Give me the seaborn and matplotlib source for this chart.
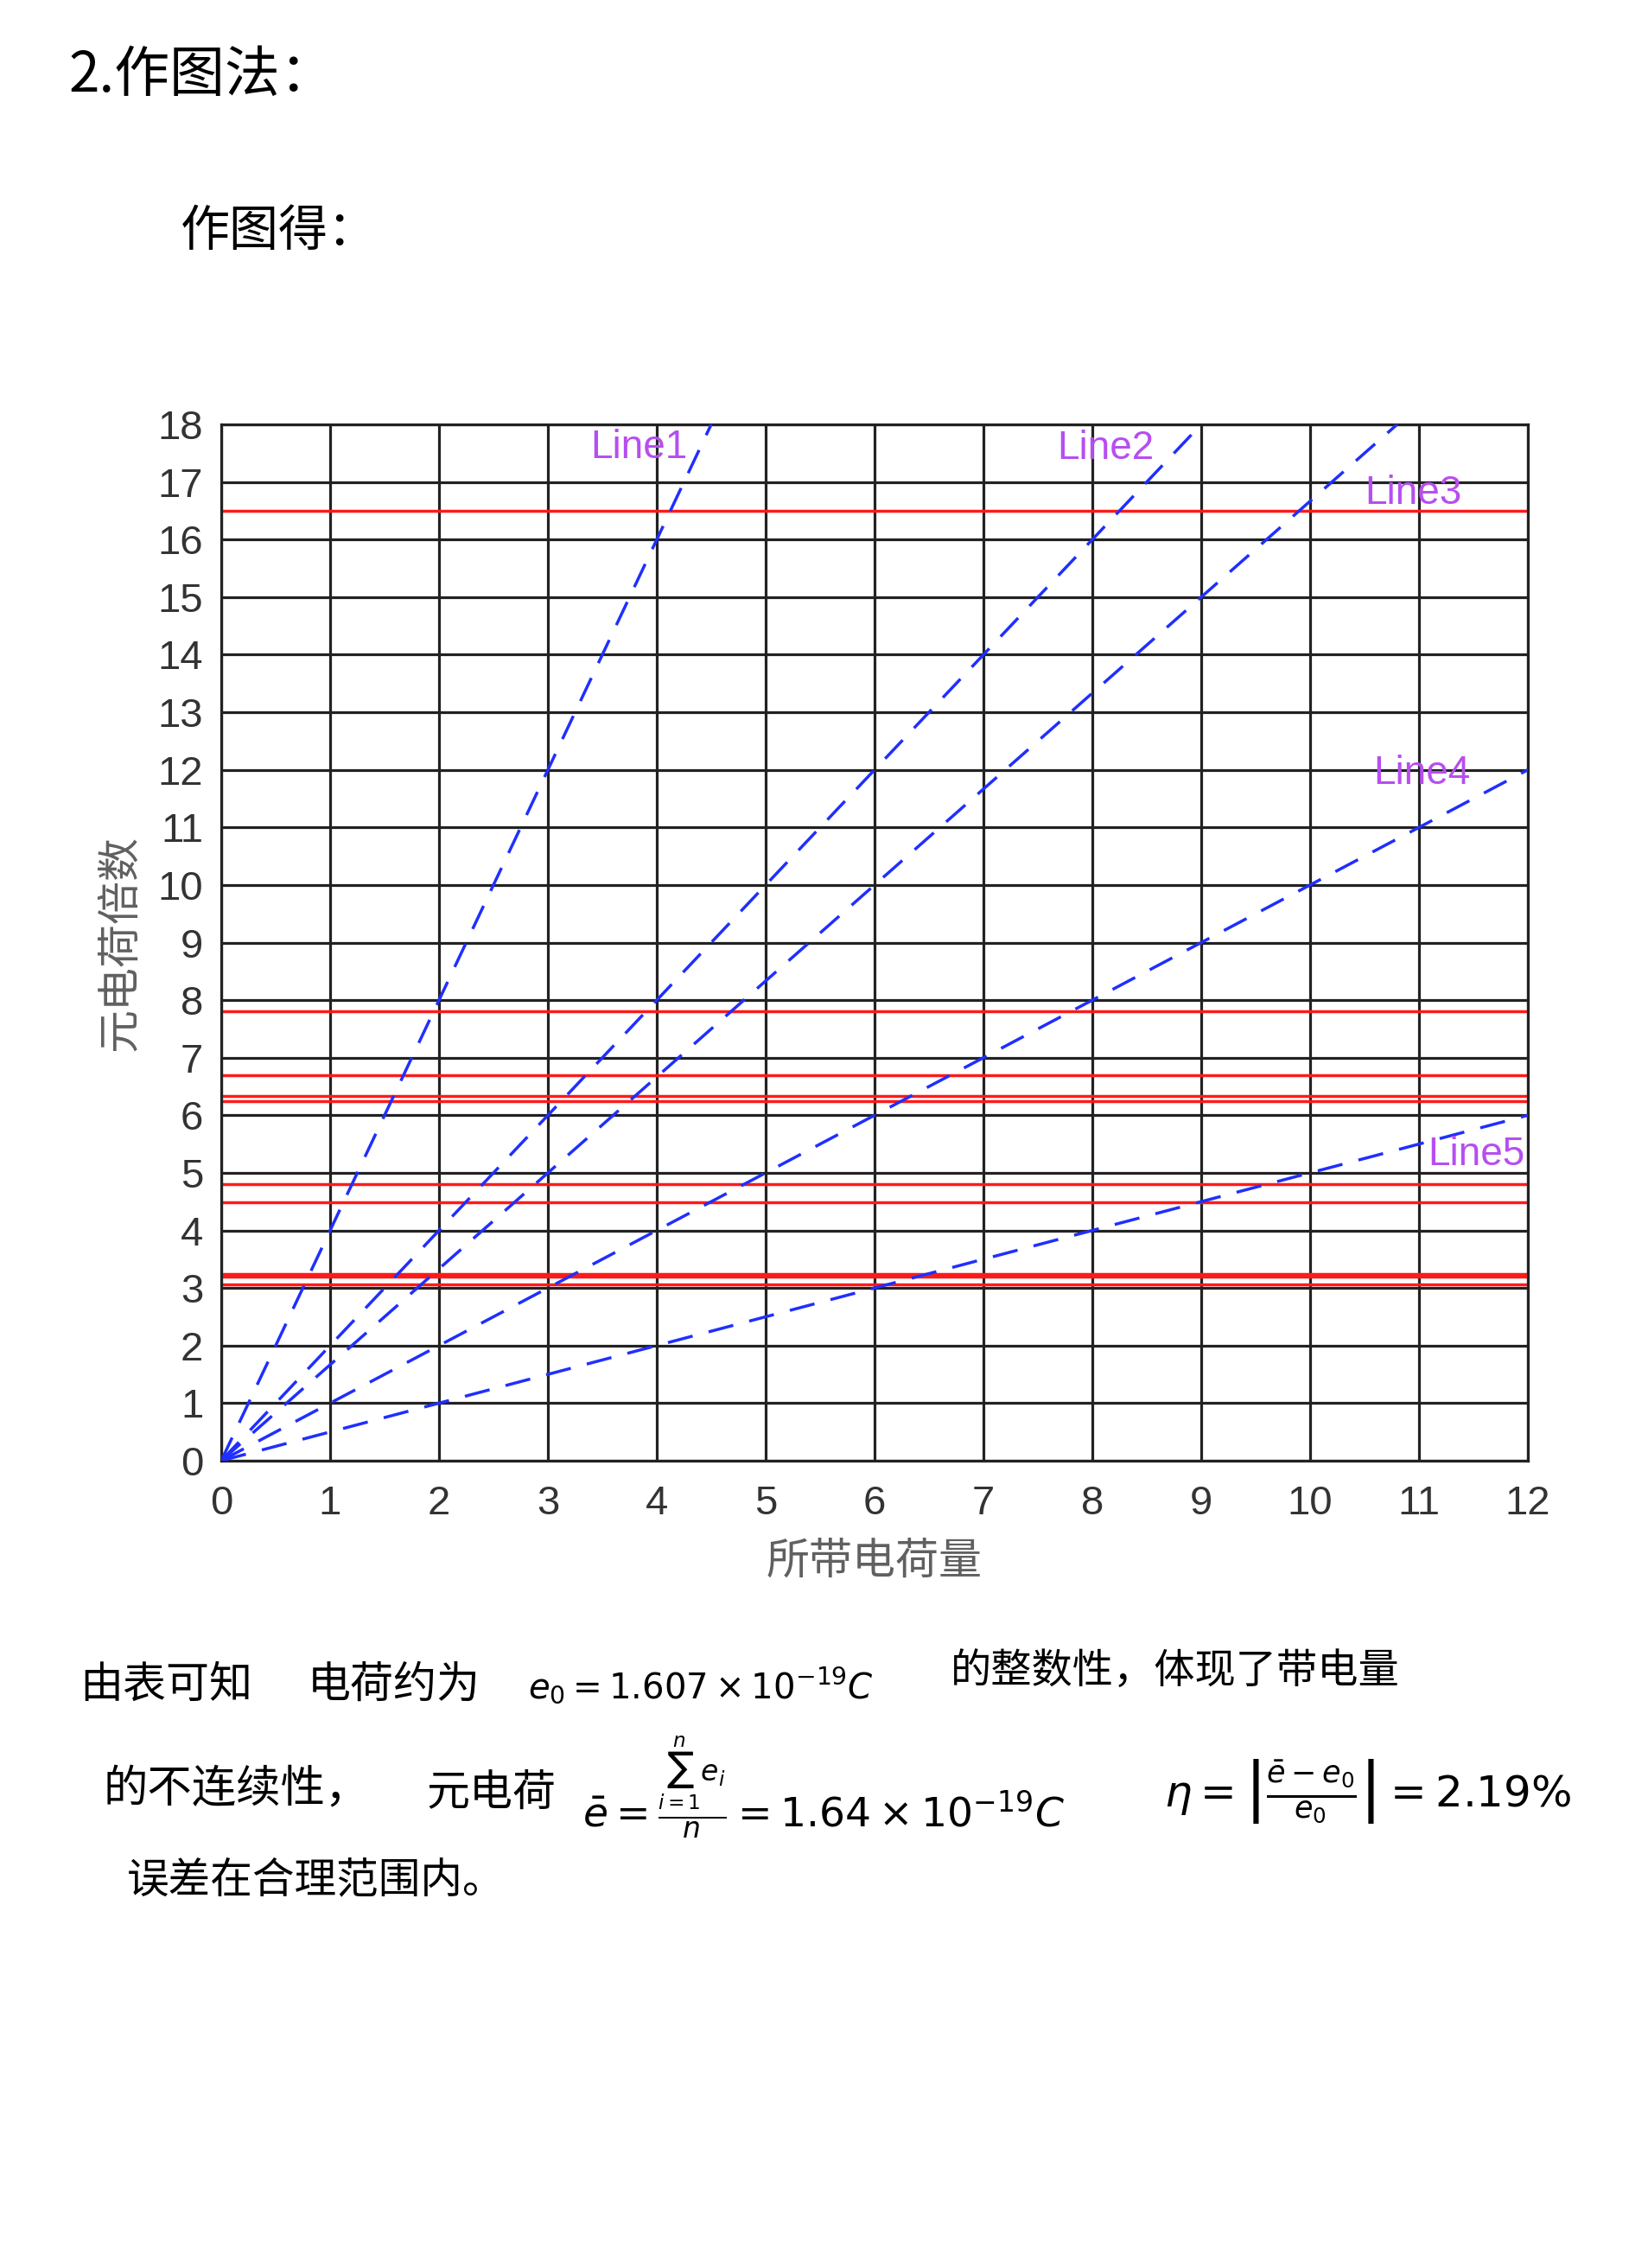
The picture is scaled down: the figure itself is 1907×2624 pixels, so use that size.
import numpy as np
import pandas as pd
import matplotlib
matplotlib.use('Agg')
import matplotlib.pyplot as plt
import seaborn as sns

# axis ticks
x_ticks = list(range(0, 13))
y_ticks = list(range(0, 19))

# measured charges (x1e-19 C), drawn as red horizontal lines
charges = [16.5, 7.8, 6.7, 6.34, 6.24, 4.8, 4.49, 3.24, 3.20, 3.07]

# dashed reference lines, all starting at the origin
line_names = ['Line1', 'Line2', 'Line3', 'Line4', 'Line5']
line_x_end = [4.5, 9.0, 10.8, 12.0, 12.0]
line_y_end = [18.0, 18.0, 18.0, 12.0, 6.0]

# where the line names sit (data coords)
label_x = [3.84, 8.12, 10.95, 11.03, 11.53]
label_y = [17.6, 17.58, 16.8, 11.93, 5.31]

rows = []
for name, xe, ye in zip(line_names, line_x_end, line_y_end):
    rows.append({'line': name, 'x': 0.0, 'y': 0.0})
    rows.append({'line': name, 'x': xe, 'y': ye})
lines_df = pd.DataFrame(rows)

sns.set_theme(style='white')
plt.rcParams['font.family'] = ['Liberation Sans', 'Noto Sans CJK SC', 'DejaVu Sans']
CJK = ['Noto Sans CJK SC', 'DejaVu Sans']

W, H = 1908, 2624
fig = plt.figure(figsize=(W / 100, H / 100), dpi=100)
fig.patch.set_facecolor('white')

# axes box measured in pixels of the page
ax = fig.add_axes([256 / W, 1 - 1690 / H, 1512 / W, 1199 / H])

grid_c = '#222222'
ax.set_xlim(0, 12)
ax.set_ylim(0, 18)
ax.set_xticks(x_ticks)
ax.set_yticks(y_ticks)
ax.set_axisbelow(True)
ax.grid(True, color=grid_c, linewidth=2.3)
for s in ax.spines.values():
    s.set_color(grid_c)
    s.set_linewidth(2.3)
ax.tick_params(length=0, labelsize=34, labelcolor='#333333')
ax.tick_params(axis='x', pad=20)
ax.tick_params(axis='y', pad=15)

for c in charges:
    ax.axhline(c, color='#ff1a1a', linewidth=2.5, zorder=2)

sns.lineplot(data=lines_df, x='x', y='y', units='line', estimator=None,
             sort=False, color='#1f2fff', linewidth=2.5, ax=ax, zorder=3)
for ln in ax.get_lines()[len(charges):]:
    ln.set_dashes([8.5, 5.5])

for name, lx, ly in zip(line_names, label_x, label_y):
    ax.text(lx, ly, name, color='#b64ef0', fontsize=33, ha='center', va='center', zorder=4)

ax.set_xlabel('所带电荷量', family=CJK, fontsize=36, color='#606060', labelpad=14)
ax.set_ylabel('元电荷倍数', family=CJK, fontsize=36, color='#606060', labelpad=12)

# handwritten notes around the chart
def note(x, y, s, size=34):
    fig.text(x / W, 1 - y / H, s, family=CJK, fontsize=size, color='black', va='center')

note(80, 88, '2.作图法：', 46)
note(209, 268, '作图得：', 41)

note(92, 1950, '由表可知', 36)
note(356, 1950, '电荷约为', 36)
note(611, 1950, r'$e_0=1.607\times10^{-19}C$', 29)
note(1100, 1935, '的整数性，体现了带电量', 34)

note(120, 2070, '的不连续性，', 37)
note(494, 2075, '元电荷', 36)
note(674, 2068, r'$\bar{e}=\frac{\sum_{i=1}^{n}e_i}{n}=1.64\times10^{-19}C$', 34)
note(1347, 2072, r'$\eta=\left|\frac{\bar{e}-e_0}{e_0}\right|=2.19\%$', 36)

note(147, 2176, '误差在合理范围内。', 35)

fig.savefig('out.png', dpi=100)
